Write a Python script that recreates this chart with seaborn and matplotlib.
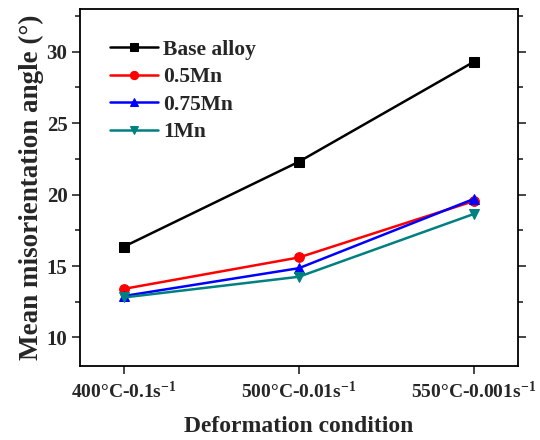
import matplotlib
matplotlib.use("Agg")
import matplotlib.pyplot as plt
import seaborn as sns
import pandas as pd
from matplotlib.ticker import MultipleLocator

conditions = ["400°C-0.1s$^{-1}$", "500°C-0.01s$^{-1}$", "550°C-0.001s$^{-1}$"]
series_names = ["Base alloy", "0.5Mn", "0.75Mn", "1Mn"]
base_alloy = [16.35, 22.3, 29.3]
mn_05 = [13.4, 15.6, 19.55]
mn_075 = [12.9, 14.85, 19.7]
mn_1 = [12.8, 14.25, 18.65]

colors = ["#000000", "#ff0000", "#0000ff", "#008080"]
markers = ["s", "o", "^", "v"]

rows = []
for name, vals in zip(series_names, [base_alloy, mn_05, mn_075, mn_1]):
    for i, v in enumerate(vals):
        rows.append({"pos": i, "angle": v, "series": name})
df = pd.DataFrame(rows)

sns.set_style("ticks")
plt.rcParams["font.family"] = ["Liberation Serif", "DejaVu Serif"]
plt.rcParams["font.weight"] = "bold"
plt.rcParams["mathtext.fontset"] = "custom"
plt.rcParams["mathtext.rm"] = "Liberation Serif:bold"
plt.rcParams["mathtext.bf"] = "Liberation Serif:bold"
plt.rcParams["mathtext.default"] = "bf"

fig = plt.figure(figsize=(5.4, 4.4), dpi=100)
ax = fig.add_axes([0.148, 0.168, 0.811, 0.812])

sns.lineplot(data=df, x="pos", y="angle", hue="series", style="series",
             hue_order=series_names, style_order=series_names,
             palette=colors, markers=markers, dashes=False,
             linewidth=1.8, markersize=7, ax=ax)

# marker edges in the line colour
for line, c in zip(ax.get_lines(), colors):
    line.set_markeredgecolor(c)

ax.set_xlim(-0.25, 2.25)
ax.set_ylim(8, 33)
ax.set_xticks([0, 1, 2])
ax.set_xticklabels(conditions)
ax.set_yticks([10, 15, 20, 25, 30])
ax.yaxis.set_minor_locator(MultipleLocator(2.5))

ax.tick_params(axis="x", which="major", labelsize=14)
ax.tick_params(axis="y", which="major", labelsize=15)
ax.tick_params(axis="both", which="major", width=1.2, length=6, direction="out")
ax.tick_params(axis="y", which="both", right=True)
ax.tick_params(axis="y", which="minor", length=3.5, width=1.2)
ax.tick_params(axis="x", which="major", pad=5)
ax.tick_params(axis="y", which="major", pad=3)
for lab in ax.get_xticklabels() + ax.get_yticklabels():
    lab.set_fontweight("bold")

for sp in ax.spines.values():
    sp.set_visible(True)
    sp.set_linewidth(1.3)
    sp.set_color("black")

ax.set_xlabel("Deformation condition", fontsize=17, fontweight="bold", labelpad=10)
ax.set_ylabel("Mean misorientation angle (°)", fontsize=19.5, fontweight="bold",
              labelpad=2)

leg = ax.legend(loc="upper left", bbox_to_anchor=(0.04, 0.95), frameon=False,
                fontsize=15.5, handlelength=2.2, handletextpad=0.25,
                labelspacing=0.35, borderaxespad=0.2, markerscale=0.85)
for t in leg.get_texts():
    t.set_fontweight("bold")
for h, c in zip(leg.legend_handles, colors):
    h.set_markeredgecolor(c)

fig.savefig("out.png", dpi=100)
